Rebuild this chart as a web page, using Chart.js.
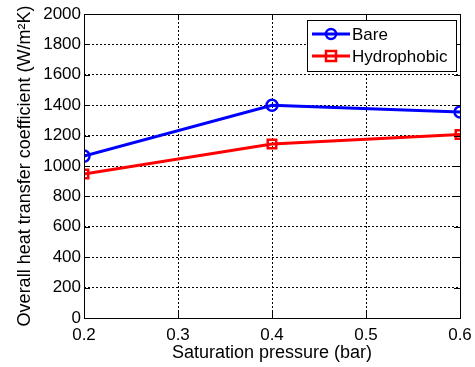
<!DOCTYPE html>
<html lang="en">
<head>
  <meta charset="UTF-8">
  <title>Overall heat transfer coefficient</title>
  <script src="https://cdn.jsdelivr.net/npm/chart.js"></script>
  <style>
    html, body { margin: 0; padding: 0; background: #fff; }
    #wrap { width: 475px; height: 367px; }
  </style>
</head>
<body>
  <div id="wrap"><canvas id="htcChart" width="475" height="367"></canvas></div>

  <script>
    // data
    const pressure = [0.2, 0.4, 0.6];
    const bare = [1065, 1400, 1355];
    const hydrophobic = [948, 1145, 1207];
    const xTicks = [0.2, 0.3, 0.4, 0.5, 0.6];
    const yTicks = [0, 200, 400, 600, 800, 1000, 1200, 1400, 1600, 1800, 2000];

    const FONT = "'Liberation Sans', Arial, sans-serif";
    Chart.defaults.font.family = FONT;
    Chart.defaults.color = '#000';

    // box around the axes + inward tick marks (matlab look)
    const boxPlugin = {
      id: 'boxPlugin',
      afterDatasetsDraw(chart) {
        const { ctx, chartArea: a, scales } = chart;
        ctx.save();
        ctx.strokeStyle = '#000';
        ctx.lineWidth = 1;
        ctx.setLineDash([]);
        ctx.beginPath();
        xTicks.forEach(v => {
          const x = Math.round(scales.x.getPixelForValue(v)) + 0.5;
          ctx.moveTo(x, a.bottom); ctx.lineTo(x, a.bottom - 6);
          ctx.moveTo(x, a.top); ctx.lineTo(x, a.top + 6);
        });
        yTicks.forEach(v => {
          const y = Math.round(scales.y.getPixelForValue(v)) + 0.5;
          ctx.moveTo(a.left, y); ctx.lineTo(a.left + 6, y);
          ctx.moveTo(a.right, y); ctx.lineTo(a.right - 6, y);
        });
        ctx.stroke();
        ctx.strokeRect(Math.round(a.left) + 0.5, Math.round(a.top) + 0.5,
          Math.round(a.right - a.left), Math.round(a.bottom - a.top));
        ctx.restore();
      }
    };

    // legend box drawn inside the plot, top right
    const legendBox = {
      id: 'legendBox',
      afterDraw(chart) {
        const { ctx } = chart;
        const x0 = 307, y0 = 20, w = 149, h = 51;
        ctx.save();
        ctx.fillStyle = '#fff';
        ctx.fillRect(x0, y0, w, h);
        ctx.strokeStyle = '#000';
        ctx.lineWidth = 1;
        ctx.strokeRect(x0 + 0.5, y0 + 0.5, w, h);
        chart.data.datasets.forEach((ds, i) => {
          const y = y0 + 14 + i * 22;
          ctx.strokeStyle = ds.borderColor;
          ctx.lineWidth = 3;
          ctx.beginPath();
          ctx.moveTo(x0 + 5, y); ctx.lineTo(x0 + 43, y);
          ctx.stroke();
          ctx.lineWidth = 2.5;
          if (ds.pointStyle === 'rect') {
            ctx.strokeRect(x0 + 19, y - 5, 10, 10);
          } else {
            ctx.beginPath();
            ctx.arc(x0 + 24, y, 5, 0, Math.PI * 2);
            ctx.stroke();
          }
          ctx.fillStyle = '#000';
          ctx.font = '17px ' + FONT;
          ctx.textBaseline = 'middle';
          ctx.fillText(ds.label, x0 + 45, y + 1);
        });
        ctx.restore();
      }
    };

    const ctx = document.getElementById('htcChart').getContext('2d');
    const htcChart = new Chart(ctx, {
      type: 'line',
      data: {
        datasets: [{
          label: 'Bare',
          data: pressure.map((p, i) => ({ x: p, y: bare[i] })),
          borderColor: '#0000ff',
          backgroundColor: 'rgba(0,0,0,0)',
          borderWidth: 3,
          pointStyle: 'circle',
          pointRadius: 5.5,
          pointBorderWidth: 2.5,
          pointBackgroundColor: 'rgba(0,0,0,0)',
          tension: 0
        }, {
          label: 'Hydrophobic',
          data: pressure.map((p, i) => ({ x: p, y: hydrophobic[i] })),
          borderColor: '#ff0000',
          backgroundColor: 'rgba(0,0,0,0)',
          borderWidth: 3,
          pointStyle: 'rect',
          pointRadius: 6,
          pointBorderWidth: 2.5,
          pointBackgroundColor: 'rgba(0,0,0,0)',
          tension: 0
        }]
      },
      options: {
        responsive: false,
        animation: false,
        layout: { padding: { left: 0, right: 15, top: 14, bottom: 0 } },
        plugins: { legend: { display: false }, tooltip: { enabled: false } },
        scales: {
          x: {
            type: 'linear',
            min: 0.2, max: 0.6,
            afterBuildTicks(scale) { scale.ticks = xTicks.map(v => ({ value: v })); },
            afterFit(scale) { scale.height = 49; scale.paddingRight = 0; },
            ticks: {
              padding: 7,
              font: { size: 17 },
              callback: v => v.toFixed(1)
            },
            grid: { color: '#000', lineWidth: 1, drawTicks: false },
            border: { display: false, dash: [2, 2] },
            title: { display: true, text: 'Saturation pressure (bar)', font: { size: 18 }, padding: { top: 0, bottom: 3 } }
          },
          y: {
            min: 0, max: 2000,
            afterBuildTicks(scale) { scale.ticks = yTicks.map(v => ({ value: v })); },
            afterFit(scale) { scale.width = 84; },
            ticks: { padding: 3, font: { size: 17 }, callback: v => String(v) },
            grid: { color: '#000', lineWidth: 1, drawTicks: false },
            border: { display: false, dash: [2, 2] },
            title: { display: true, text: 'Overall heat transfer coefficient (W/m\u00B2K)', font: { size: 18 }, padding: { top: 14, bottom: 4 } }
          }
        }
      },
      plugins: [boxPlugin, legendBox]
    });
  </script>
</body>
</html>
